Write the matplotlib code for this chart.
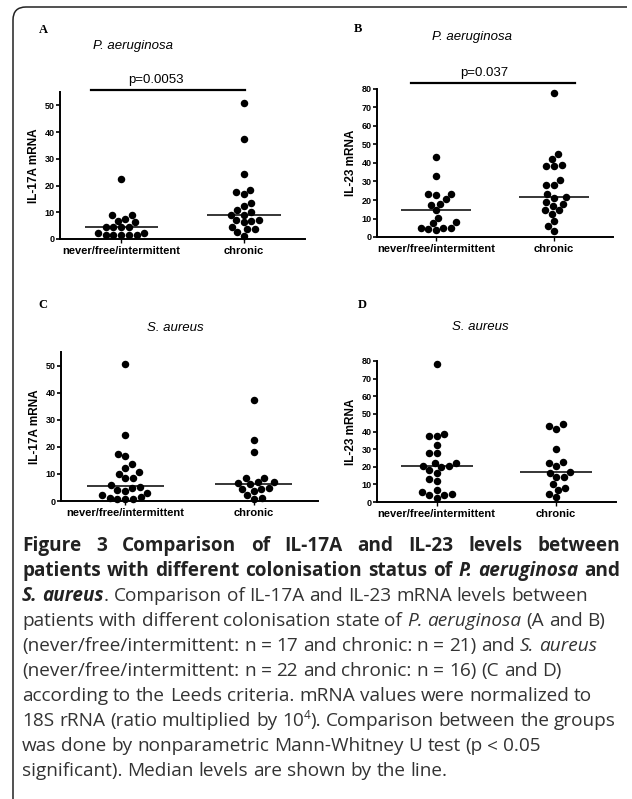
import numpy as np
import pandas as pd
import matplotlib.pyplot as plt
import seaborn as sns
from matplotlib.path import Path
from matplotlib.patches import PathPatch

W, H = 632, 799

# groups on the x axis
groups = ["never/free/intermittent", "chronic"]

# IL-17A mRNA, P. aeruginosa (A)
il17_pa_never = [22.4, 9.0, 9.0, 7.4, 6.9, 6.2, 4.4, 4.4, 4.4, 4.4, 2.4, 2.4, 1.4, 1.4, 1.4, 1.4, 1.4]
il17_pa_chronic = [50.7, 37.5, 24.4, 18.4, 17.5, 16.8, 13.6, 12.5, 10.8, 10.1, 9.1, 9.1,
                   7.1, 7.1, 6.8, 6.2, 4.6, 3.6, 3.6, 2.5, 1.1]
# IL-23 mRNA, P. aeruginosa (B)
il23_pa_never = [43.3, 33.0, 23.5, 23.5, 22.9, 20.4, 17.9, 17.5, 14.4, 10.5, 8.1, 7.4,
                 5.1, 5.1, 5.1, 4.3, 3.6]
il23_pa_chronic = [78.0, 44.6, 42.2, 39.0, 38.3, 38.3, 30.7, 28.3, 28.3, 23.1, 21.8,
                   21.3, 19.0, 18.0, 17.0, 14.4, 14.4, 12.6, 8.7, 6.0, 3.1]
# IL-17A mRNA, S. aureus (C)
il17_sa_never = [50.7, 24.3, 17.2, 16.5, 13.5, 12.2, 10.6, 10.1, 8.6, 8.6, 5.9, 5.2,
                 4.9, 4.2, 3.8, 3.0, 2.1, 1.5, 1.2, 0.7, 0.7, 0.7]
il17_sa_chronic = [37.4, 22.4, 18.1, 8.6, 8.6, 7.1, 7.0, 6.7, 6.2, 4.9, 4.3, 4.3, 3.7,
                   2.1, 1.2, 0.9]
# IL-23 mRNA, S. aureus (D)
il23_sa_never = [78.3, 38.5, 37.7, 37.7, 32.6, 27.9, 27.9, 22.4, 22.2, 20.7, 20.4, 19.9,
                 18.0, 16.5, 12.9, 11.8, 6.6, 5.5, 4.5, 4.2, 3.8, 2.3]
il23_sa_chronic = [44.2, 43.2, 41.7, 29.8, 22.9, 22.2, 20.7, 17.3, 16.7, 14.2, 14.2,
                   10.4, 8.2, 7.0, 4.7, 2.8]

pvals_top = ["p=0.0053", "p=0.037"]

plt.rcParams['font.family'] = ['Liberation Sans', 'DejaVu Sans']
fig = plt.figure(figsize=(W / 100, H / 100), dpi=100)


def fx(x):
    return x / W


def fy(y):
    return 1 - y / H


def make_axes(left, top, right, bottom):
    return fig.add_axes([fx(left), fy(bottom), (right - left) / W, (bottom - top) / H])


panels = [
    # rect(px), never, chronic, ylabel, ymax, title, title pos, letter, letter pos
    ((60, 92, 305, 239), il17_pa_never, il17_pa_chronic, "IL-17A mRNA", 55, "P. aeruginosa", (133, 46), "A", (43, 30)),
    ((377, 89, 613, 237), il23_pa_never, il23_pa_chronic, "IL-23 mRNA", 80, "P. aeruginosa", (472, 37), "B", (358, 29)),
    ((61, 352, 318, 501), il17_sa_never, il17_sa_chronic, "IL-17A mRNA", 55, "S. aureus", (175, 328), "C", (43, 305)),
    ((377, 361, 616, 502), il23_sa_never, il23_sa_chronic, "IL-23 mRNA", 80, "S. aureus", (480, 327), "D", (362, 305)),
]

axes = []
for rect, never, chronic, ylab, ymax, title, tpos, letter, lpos in panels:
    ax = make_axes(*rect)
    df = pd.DataFrame({"group": [groups[0]] * len(never) + [groups[1]] * len(chronic),
                       "val": never + chronic})
    sns.swarmplot(data=df, x="group", y="val", order=groups, color="black", size=5.4,
                  ax=ax, clip_on=False, zorder=3)
    for i, v in enumerate([never, chronic]):
        ax.hlines(np.median(v), i - 0.3, i + 0.3, color="black", lw=1.1, zorder=2)
    ax.set_xlim(-0.5, 1.5)
    ax.set_ylim(0, ymax)
    ax.set_yticks(np.arange(0, ymax + 1, 10))
    ax.set_xlabel("")
    ax.set_ylabel(ylab, fontsize=8.5, fontweight="bold", labelpad=3)
    for s in ["top", "right"]:
        ax.spines[s].set_visible(False)
    for s in ["left", "bottom"]:
        ax.spines[s].set_linewidth(1.4)
    ax.tick_params(axis="y", direction="out", length=3, width=1.2, pad=1, labelsize=6.5)
    ax.tick_params(axis="x", direction="out", length=3, width=1.0, pad=2, labelsize=8)
    for lab in ax.get_xticklabels() + ax.get_yticklabels():
        lab.set_fontweight("bold")
    fig.text(fx(tpos[0]), fy(tpos[1]), title, fontsize=9.5, style="italic", ha="center", va="center")
    fig.text(fx(lpos[0]), fy(lpos[1]), letter, fontsize=9, fontweight="bold",
             family="Liberation Serif", ha="center", va="center")
    axes.append(ax)

# significance bars (A and B)
for ax, ptxt, (x0, x1, ybar, xt) in zip(axes[:2], pvals_top,
                                        [(-0.25, 1.01, 55.6, 0.28), (-0.21, 1.18, 83.2, 0.41)]):
    ax.plot([x0, x1], [ybar, ybar], color="black", lw=1.6, clip_on=False)
    ax.annotate(ptxt, (xt, ybar), xytext=(0, 3), textcoords="offset points",
                ha="center", va="bottom", fontsize=9.5, annotation_clip=False)

# frame with rounded top-left corner
verts = [(13, 799), (13, 20), (13, 7), (26, 7), (627, 7)]
codes = [Path.MOVETO, Path.LINETO, Path.CURVE3, Path.CURVE3, Path.LINETO]
frame = Path([(fx(x), fy(y)) for x, y in verts], codes)
fig.add_artist(PathPatch(frame, transform=fig.transFigure, fill=False, edgecolor="#222222", lw=1.1))

# caption
cap_font = "Open Sans"
cap_size = 13.7
styles = {
    "n": dict(fontweight="normal", style="normal"),
    "b": dict(fontweight="bold", style="normal"),
    "i": dict(fontweight="normal", style="italic"),
    "bi": dict(fontweight="bold", style="italic"),
    "sup": dict(fontweight="normal", style="normal"),
}
cap_lines = [
    ([("Figure 3 Comparison of IL-17A and IL-23 levels between", "b")], True),
    ([("patients with different colonisation status of ", "b"), ("P. aeruginosa", "bi"), (" and", "b")], True),
    ([("S. aureus", "bi"), (". Comparison of IL-17A and IL-23 mRNA levels between", "n")], False),
    ([("patients with different colonisation state of ", "n"), ("P. aeruginosa", "i"), (" (A and B)", "n")], False),
    ([("(never/free/intermittent: n = 17 and chronic: n = 21) and ", "n"), ("S. aureus", "i")], False),
    ([("(never/free/intermittent: n = 22 and chronic: n = 16) (C and D)", "n")], False),
    ([("according to the Leeds criteria. mRNA values were normalized to", "n")], False),
    ([("18S rRNA (ratio multiplied by 10", "n"), ("4", "sup"), ("). Comparison between the groups", "n")], False),
    ([("was done by nonparametric Mann-Whitney U test (p < 0.05", "n")], False),
    ([("significant). Median levels are shown by the line.", "n")], False),
]

renderer = fig.canvas.get_renderer()


def text_width(t):
    return t.get_window_extent(renderer).width


x_start, x_end = 22, 620
y_first, line_gap = 551, 25

tmp = fig.text(0, 0, "n n", family=cap_font, fontsize=cap_size)
tmp2 = fig.text(0, 0, "nn", family=cap_font, fontsize=cap_size)
space_w = text_width(tmp) - text_width(tmp2)
tmp.remove()
tmp2.remove()

for k, (segs, justify) in enumerate(cap_lines):
    base = y_first + k * line_gap
    # split the styled segments into words, remembering where spaces were
    words = []
    pending = False
    for txt, st in segs:
        parts = txt.split(" ")
        for j, p in enumerate(parts):
            if j > 0:
                pending = True
            if p:
                words.append((p, st, pending and bool(words)))
                pending = False
    arts = []
    for w, st, sp in words:
        size = 8.5 if st == "sup" else cap_size
        t = fig.text(0, 0, w, family=cap_font, fontsize=size, va="baseline", ha="left",
                     color="#222222" if st in ("b", "bi") else "#333333", **styles[st])
        arts.append((t, st, sp))
    widths = [text_width(t) for t, _, _ in arts]
    n_gaps = sum(1 for _, _, sp in arts if sp)
    natural = sum(widths) + n_gaps * space_w
    gap = space_w
    if justify and n_gaps:
        gap = space_w + (x_end - x_start - natural) / n_gaps
    x = x_start
    for (t, st, sp), w in zip(arts, widths):
        if sp:
            x += gap
        y = base - 7 if st == "sup" else base
        t.set_position((fx(x), fy(y)))
        x += w

fig.savefig("out.png", dpi=100)
